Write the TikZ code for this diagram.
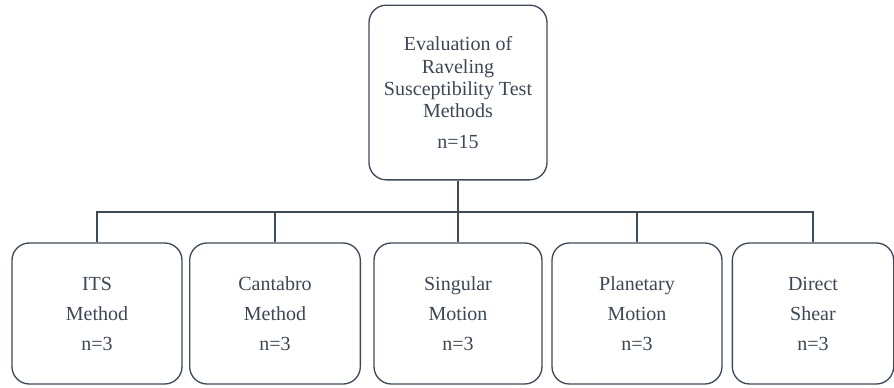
\documentclass[tikz,border=0pt]{standalone}
\usepackage{fontspec}
\newfontfamily\lsf{LiberationSerif}[Extension=.ttf, UprightFont=*-Regular]
\definecolor{ink}{HTML}{3B4656}
\definecolor{edge}{HTML}{3D4A5C}
\begin{document}
\begin{tikzpicture}[x=0.75pt,y=-0.75pt,
  box/.style={draw=edge, line width=1pt, rounded corners=13pt, align=center,
    text=ink, font=\lsf\fontsize{15}{22.5}\selectfont, inner sep=0pt},
  topbox/.style={box, minimum width=133.5pt, minimum height=131pt,
    font=\lsf\fontsize{15}{16.8}\selectfont},
  leaf/.style={box, minimum width=127.5pt, minimum height=105.75pt},
  link/.style={draw=edge, line width=1pt}]
\useasboundingbox (0,0) rectangle (894,387);
\node[topbox] (top) at (458,92.5) {Evaluation of\\Raveling\\Susceptibility Test\\Methods\\[6pt]n=15};
\node[leaf] (b1) at (97,313.5) {ITS\\Method\\n=3};
\node[leaf, minimum width=128pt] (b2) at (275,313.5) {Cantabro\\Method\\n=3};
\node[leaf, minimum width=126pt] (b3) at (458,313.5) {Singular\\Motion\\n=3};
\node[leaf] (b4) at (637,313.5) {Planetary\\Motion\\n=3};
\node[leaf, minimum width=121pt] (b5) at (813,313.5) {Direct\\Shear\\n=3};
\coordinate (bus) at (458,212);
\draw[link] (top) -- (bus);
\foreach \b in {b1,b2,b3,b4,b5} \draw[link] (bus) -| (\b.north);
\end{tikzpicture}
\end{document}
